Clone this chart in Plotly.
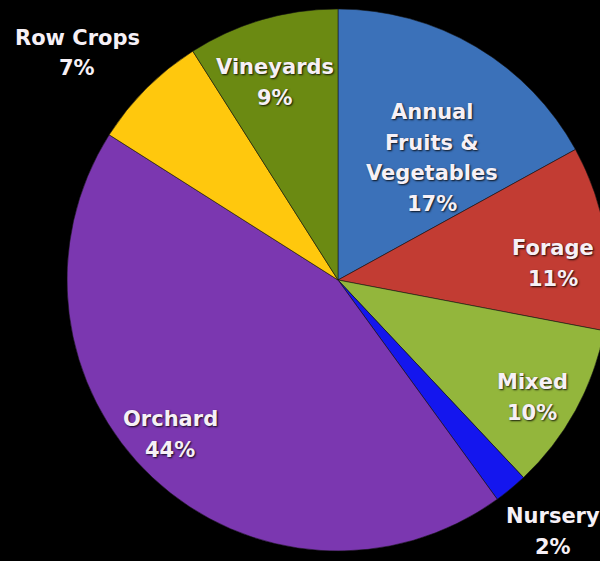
import plotly.graph_objects as go

# Share of farms by crop type (percent), listed clockwise from 12 o'clock
crops = ["Annual Fruits & Vegetables", "Forage", "Mixed", "Nursery",
         "Orchard", "Row Crops", "Vineyards"]
shares = [17, 11, 10, 2, 44, 7, 9]
label_lines = [["Annual", "Fruits &", "Vegetables"], ["Forage"], ["Mixed"],
               ["Nursery"], ["Orchard"], ["Row Crops"], ["Vineyards"]]
colors = ["#3b71b9", "#c23c33", "#93b63c", "#1416ee",
          "#7b37b0", "#ffc80d", "#6b8a12"]

# Label placement (pixel centre of the first line) and figure size
W, H = 620, 561
label_pos = [(432, 112), (553, 248), (532, 382), (553, 516),
             (170, 419), (77, 38), (275, 67)]
LINE_GAP = 30.5
FONT = dict(family="DejaVu Sans", size=21, color="#f6f0f6",
            weight="bold", shadow="1px 1px 2px rgba(0,0,0,0.85)")

fig = go.Figure(go.Pie(
    labels=crops,
    values=shares,
    sort=False,
    direction="clockwise",
    rotation=0,
    marker=dict(colors=colors, line=dict(color="rgba(20,20,20,0.55)", width=1)),
    textinfo="none",
    hoverinfo="label+percent",
    showlegend=False,
    domain=dict(x=[67 / W, 609 / W], y=[10 / H, 552 / H]),
))

annotations = []
for lines, share, (px, py) in zip(label_lines, shares, label_pos):
    for i, txt in enumerate(lines + [f"{share}%"]):
        annotations.append(dict(
            x=px / W, y=1 - (py + i * LINE_GAP) / H,
            xref="paper", yref="paper",
            xanchor="center", yanchor="middle",
            text=txt, showarrow=False, font=FONT,
        ))

fig.update_layout(
    width=W, height=H,
    margin=dict(l=0, r=0, t=0, b=0),
    paper_bgcolor="black",
    plot_bgcolor="black",
    annotations=annotations,
)

fig.write_html(
    "out.html",
    post_script="document.documentElement.style.overflow='hidden';"
                "document.body.style.overflow='hidden';",
)
